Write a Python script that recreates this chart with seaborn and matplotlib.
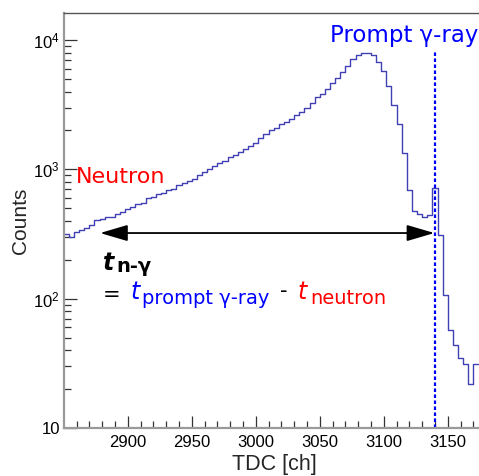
import numpy as np
import pandas as pd
import matplotlib
matplotlib.use("Agg")
import matplotlib.pyplot as plt
import seaborn as sns
from matplotlib.patches import FancyArrowPatch
from matplotlib.ticker import FixedLocator, FixedFormatter, MultipleLocator, LogLocator, NullFormatter

# ---- data ----
bin_start = 2850
bin_width = 4
counts = [315, 298, 326, 338, 352, 372, 408, 415, 428, 432, 455, 470, 492, 515, 540, 552,
          598, 612, 640, 655, 692, 710, 755, 778, 818, 850, 902, 955, 1012, 1070, 1125, 1170,
          1240, 1300, 1370, 1435, 1520, 1610, 1735, 1870, 2000, 2085, 2225, 2345, 2455, 2630,
          2800, 2990, 3290, 3600, 3860, 4220, 4650, 5130, 5710, 6350, 7080, 7730, 8000, 8000,
          7650, 6820, 5800, 4400, 3150, 2250, 1330, 690, 480, 455, 425, 440, 715, 310, 106,
          57, 44, 35, 31, 22, 31]
prompt_channel = 3140
arrow_from = 2878.4
arrow_to = 3139.5
arrow_level = 322
x_ticks = [2900, 2950, 3000, 3050, 3100, 3150]
y_ticks = [10, 100, 1000, 10000]
y_tick_labels = ["10", r"$10^{2}$", r"$10^{3}$", r"$10^{4}$"]

n_bins = len(counts)
centers = bin_start + bin_width * (np.arange(n_bins) + 0.5)
df = pd.DataFrame({"TDC": centers, "Counts": counts})

sns.set_style("ticks")
plt.rcParams["font.family"] = ["Liberation Sans", "DejaVu Sans"]
plt.rcParams["mathtext.fontset"] = "custom"
plt.rcParams["mathtext.rm"] = "Liberation Sans"
plt.rcParams["mathtext.it"] = "Liberation Sans:italic"

W, H = 479, 476
fig = plt.figure(figsize=(W / 100, H / 100), dpi=100)
ax = fig.add_axes([64 / W, 48 / H, 420 / W, 415 / H])

sns.histplot(data=df, x="TDC", weights="Counts", binwidth=bin_width,
             binrange=(bin_start, bin_start + bin_width * n_bins), element="step",
             fill=False, color="#4040b4", linewidth=1.0, ax=ax)
ax.set_yscale("log")
ax.set_xlim(2850.2, 3178.3)
ax.set_ylim(10, 16200)

ax.plot([prompt_channel, prompt_channel], [10, 8300], color="#0000ff",
        lw=1.6, ls=(0, (1.6, 1.1)))

arrow = FancyArrowPatch((arrow_from, arrow_level), (arrow_to, arrow_level),
                        arrowstyle="<|-|>,head_length=17,head_width=5",
                        mutation_scale=1, lw=1.3, color="black",
                        shrinkA=0, shrinkB=0)
ax.add_patch(arrow)

# axes styling
ax.xaxis.set_major_locator(FixedLocator(x_ticks))
ax.xaxis.set_minor_locator(MultipleLocator(10))
ax.yaxis.set_major_locator(FixedLocator(y_ticks))
ax.yaxis.set_major_formatter(FixedFormatter(y_tick_labels))
ax.yaxis.set_minor_locator(LogLocator(base=10, subs=np.arange(2, 10)))
ax.yaxis.set_minor_formatter(NullFormatter())
ax.tick_params(which="major", direction="in", length=9, width=0.9, color="#333333",
               labelsize=12, labelcolor="black")
ax.tick_params(which="minor", direction="in", length=5, width=0.9, color="#333333")
ax.tick_params(axis="x", which="major", pad=5)
ax.tick_params(axis="y", which="major", pad=3)
for s in ["left", "bottom"]:
    ax.spines[s].set_color("#9a9a9a")
    ax.spines[s].set_linewidth(1.6)
ax.spines["top"].set_color("#555555")
ax.spines["top"].set_linewidth(1.0)
ax.spines["right"].set_visible(False)

ax.set_xlabel("TDC [ch]", fontsize=15.5, labelpad=3)
ax.set_ylabel("Counts", fontsize=15, labelpad=2)


def ptext(x, y, s, **kw):
    fig.text(x / W, (H - y) / H, s, ha="left", va="baseline", **kw)


dv = "DejaVu Sans"
ptext(330, 42, "Prompt γ-ray", color="#0000ff", fontsize=16.5, family=dv)
ptext(76, 183, "Neutron", color="#ff0000", fontsize=16, family=dv)

ptext(103, 270, "t", color="black", fontsize=17, style="italic", weight="bold", family=dv)
ptext(116, 272, "n-γ", color="black", fontsize=14, weight="bold", family=dv)
ptext(103, 301, "=", color="black", fontsize=15, family=dv)
ptext(130, 299, "t", color="#0000ff", fontsize=17, style="italic", family=dv)
ptext(142, 304, "prompt γ-ray", color="#0000ff", fontsize=14, family=dv)
ptext(280, 297, "-", color="black", fontsize=15, family=dv)
ptext(297, 299, "t", color="#ff0000", fontsize=17, style="italic", family=dv)
ptext(310, 304, "neutron", color="#ff0000", fontsize=14, family=dv)

fig.savefig("out.png", dpi=100)
